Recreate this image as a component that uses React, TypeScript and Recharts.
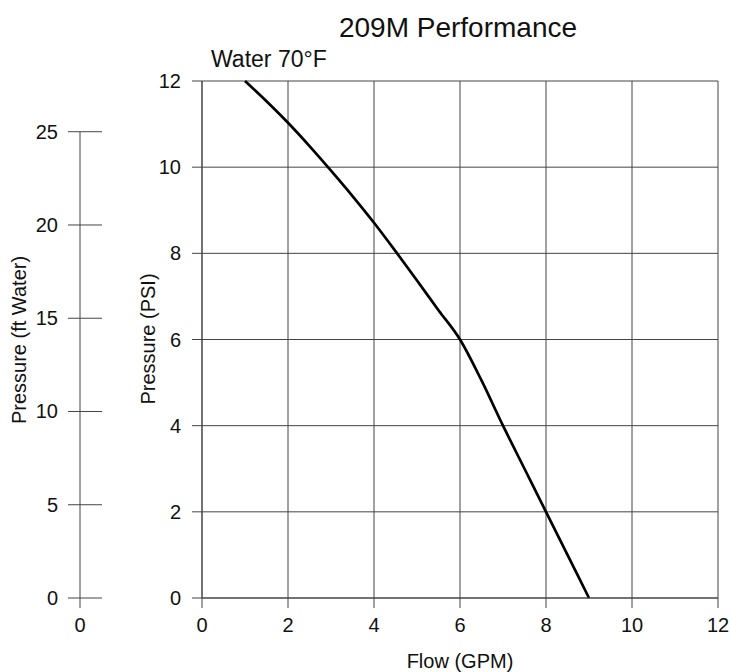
import { CartesianGrid, Line, LineChart, ReferenceLine, XAxis, YAxis } from 'recharts';

// pump curve
const flowGpm = [1, 1.5, 2, 2.5, 3, 3.5, 4, 4.5, 5, 5.5, 6, 6.5, 7, 7.5, 8, 8.5, 9];
const pressurePsi = [12, 11.53, 11.03, 10.49, 9.92, 9.33, 8.71, 8.05, 7.37, 6.68, 6.0, 5.05, 4.0, 3.0, 2.0, 1.0, 0];

const flowTicks = [0, 2, 4, 6, 8, 10, 12];
const psiTicks = [0, 2, 4, 6, 8, 10, 12];
const ftTicks = [0, 5, 10, 15, 20, 25];

const FT_PER_PSI = 2.31;
const PSI_MAX = 12;

// axis ids: recharts stacks left axes by id, first one sits next to the plot
const PSI_AXIS = 'axis1-psi';
const FT_AXIS = 'axis2-ft';

const rows = flowGpm.map((flow, i) => ({ flow, psi: pressurePsi[i] }));

const FONT = '"Liberation Sans", Arial, Helvetica, sans-serif';
const TEXT = '#111';
const GRID = '#444';

function FtTick({ x, y, payload }: any) {
  return (
    <g>
      <line x1={x - 12} x2={x + 22} y1={y} y2={y} stroke={GRID} strokeWidth={1} />
      <text x={x - 22} y={y} dy="0.35em" textAnchor="end" fontSize={20} fill={TEXT} fontFamily={FONT}>
        {payload.value}
      </text>
    </g>
  );
}

export default function App() {
  return (
    <div style={{ position: 'absolute', left: 0, top: 0, width: 731, height: 672, background: '#fff' }}>
      <LineChart
        width={731}
        height={672}
        data={rows}
        margin={{ top: 81, right: 13, bottom: 0, left: 0 }}
        style={{ fontFamily: FONT }}
      >
        <CartesianGrid
          yAxisId={PSI_AXIS}
          stroke={GRID}
          strokeWidth={1}
          horizontalValues={psiTicks}
          verticalValues={flowTicks}
        />
        <XAxis
          dataKey="flow"
          type="number"
          domain={[0, 12]}
          ticks={flowTicks}
          height={74}
          tickSize={10}
          tickMargin={10}
          stroke={GRID}
          tick={{ fontSize: 20, fill: TEXT }}
        />
        <YAxis
          yAxisId={PSI_AXIS}
          type="number"
          domain={[0, PSI_MAX]}
          ticks={psiTicks}
          width={122}
          tickSize={10}
          tickMargin={11}
          stroke={GRID}
          tick={{ fontSize: 20, fill: TEXT }}
        />
        <YAxis
          yAxisId={FT_AXIS}
          type="number"
          domain={[0, PSI_MAX * FT_PER_PSI]}
          allowDataOverflow
          ticks={ftTicks}
          width={80}
          axisLine={false}
          tickLine={false}
          tickSize={0}
          tickMargin={0}
          tick={<FtTick />}
        />
        <ReferenceLine
          yAxisId={FT_AXIS}
          ifOverflow="visible"
          stroke={GRID}
          strokeWidth={1}
          segment={[
            { x: -2.837, y: 25 },
            { x: -2.837, y: -0.54 },
          ]}
          label={{ value: '0', position: 'bottom', offset: 10, fontSize: 20, fill: TEXT }}
        />
        <Line
          yAxisId={PSI_AXIS}
          type="monotone"
          dataKey="psi"
          stroke="#000"
          strokeWidth={2.7}
          dot={false}
          isAnimationActive={false}
        />
      </LineChart>
      <svg
        width={731}
        height={672}
        style={{ position: 'absolute', left: 0, top: 0, pointerEvents: 'none' }}
        fontFamily={FONT}
        fill={TEXT}
      >
        <text x={458} y={37} textAnchor="middle" fontSize={28}>209M Performance</text>
        <text x={211} y={67} fontSize={23}>Water 70°F</text>
        <text x={460} y={668} textAnchor="middle" fontSize={20}>Flow (GPM)</text>
        <text x={148} y={339} textAnchor="middle" fontSize={20} transform="rotate(-90 148 339)" dy="0.35em">
          Pressure (PSI)
        </text>
        <text x={19} y={340} textAnchor="middle" fontSize={20} transform="rotate(-90 19 340)" dy="0.35em">
          Pressure (ft Water)
        </text>
      </svg>
    </div>
  );
}
